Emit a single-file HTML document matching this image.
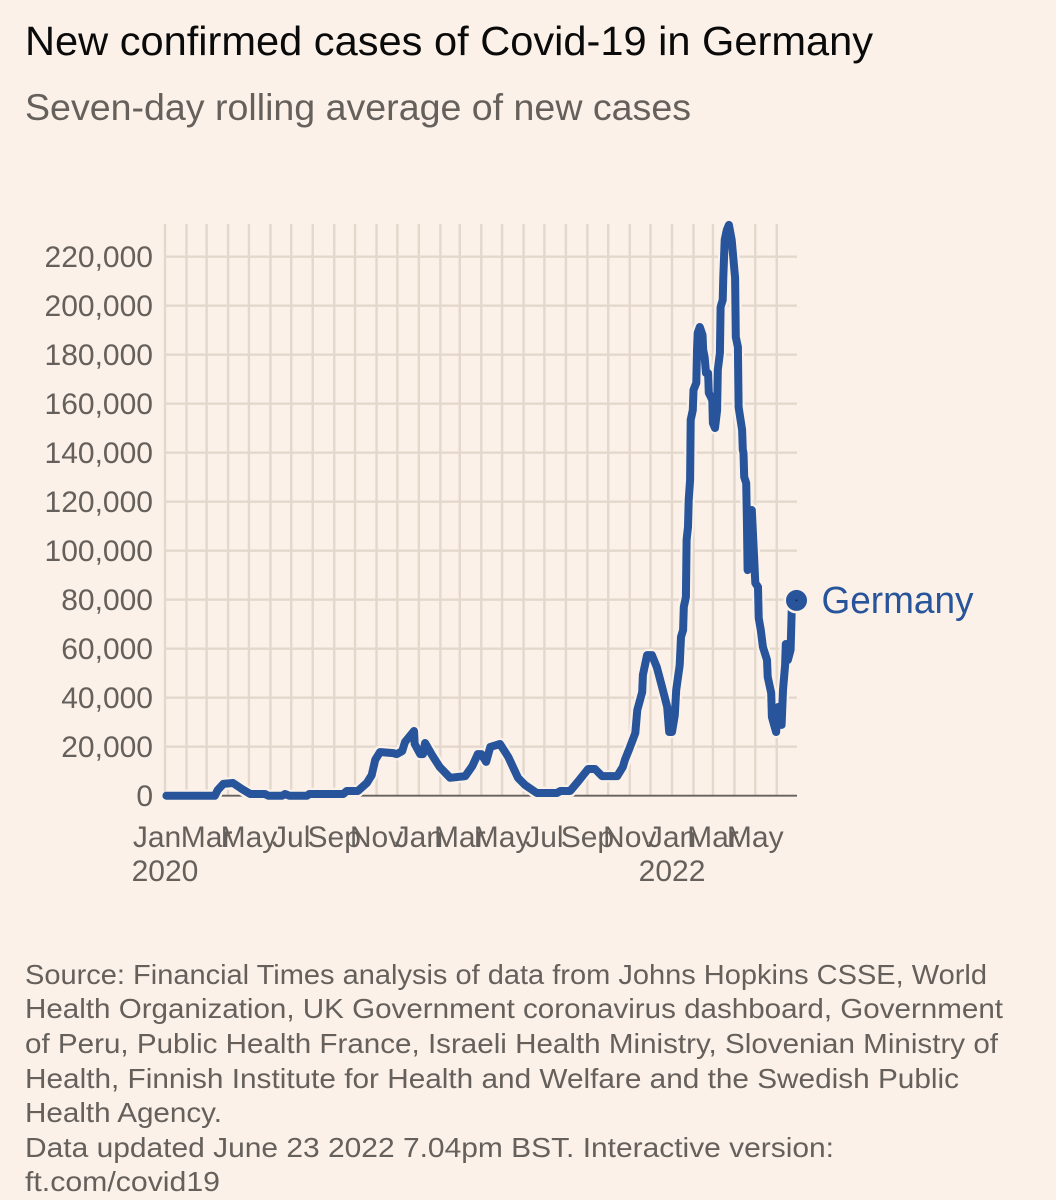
<!DOCTYPE html>
<html lang="en">
<head>
<meta charset="utf-8">
<title>New confirmed cases of Covid-19 in Germany</title>
<style>
  html, body { margin: 0; padding: 0; background: #fbf1e8; }
  body { width: 1056px; height: 1200px; overflow: hidden; }
  svg { display: block; font-family: "Liberation Sans", sans-serif; }
  .title { font-size: 41px; fill: #0a0a0a; }
  .subtitle { font-size: 37px; fill: #66605c; }
  .tick { font-size: 30px; fill: #66605c; }
  .xtick { font-size: 30px; fill: #66605c; }
  .foot { font-size: 28px; fill: #66605c; }
  .series-label { font-size: 38px; fill: #27549a; }
</style>
</head>
<body>
<svg id="chart" width="1056" height="1200" viewBox="0 0 1056 1200" xmlns="http://www.w3.org/2000/svg">
  <rect x="0" y="0" width="1056" height="1200" fill="#fbf1e8"/>
  <text class="title" x="25" y="55" textLength="848" lengthAdjust="spacingAndGlyphs">New confirmed cases of Covid-19 in Germany</text>
  <text class="subtitle" x="25" y="120" textLength="666" lengthAdjust="spacingAndGlyphs">Seven-day rolling average of new cases</text>
  <g id="grid"></g>
  <g id="yaxis"></g>
  <g id="xaxis"></g>
  <g id="series"></g>
  <g>
    <text class="foot" x="25" y="984" textLength="962" lengthAdjust="spacingAndGlyphs">Source: Financial Times analysis of data from Johns Hopkins CSSE, World</text>
    <text class="foot" x="25" y="1018" textLength="978" lengthAdjust="spacingAndGlyphs">Health Organization, UK Government coronavirus dashboard, Government</text>
    <text class="foot" x="25" y="1053" textLength="973" lengthAdjust="spacingAndGlyphs">of Peru, Public Health France, Israeli Health Ministry, Slovenian Ministry of</text>
    <text class="foot" x="25" y="1088" textLength="934" lengthAdjust="spacingAndGlyphs">Health, Finnish Institute for Health and Welfare and the Swedish Public</text>
    <text class="foot" x="25" y="1122" textLength="197" lengthAdjust="spacingAndGlyphs">Health Agency.</text>
    <text class="foot" x="25" y="1157" textLength="809" lengthAdjust="spacingAndGlyphs">Data updated June 23 2022 7.04pm BST. Interactive version:</text>
    <text class="foot" x="25" y="1191" textLength="195" lengthAdjust="spacingAndGlyphs">ft.com/covid19</text>
  </g>
</svg>
<script>
// Days since 1 January 2020
const days = [2,72,76,84,98,111,123,144,149,169,173,179,205,208,257,262,278,291,298,303,310,329,334,342,346,359,360,368,372,375,385,396,411,433,443,451,456,463,469,483,495,509,519,536,565,570,584,595,610,620,630,652,660,663,670,678,681,688,689,695,702,709,717,724,727,731,735,737,742,744,747,748,751,752,754,755,757,758,761,762,766,767,768,771,775,776,778,780,783,784,789,790,793,796,797,800,801,804,805,807,810,813,817,822,823,826,827,832,833,834,835,838,839,840,846,849,851,855,856,859,862,868,869,874,875,881,884,889,891,894,895,898,902,904];
// Seven-day average of new cases
const cases = [0,0,2300,4800,5200,2700,700,700,0,0,700,0,0,700,700,1900,1900,5200,8400,14600,17800,17400,17000,18200,21900,26400,21100,17000,17000,21500,16600,11700,7300,8000,12100,17000,17000,13800,19900,21100,15800,7300,4400,1100,1100,1900,1900,5600,10900,10900,8000,8000,11700,14600,19500,25600,35000,42300,49300,57400,57400,52500,44000,36200,26000,26000,32900,43100,53300,64800,67600,77000,81100,104400,109700,120700,128900,153400,157400,165600,168500,181900,188900,191300,188100,181900,179100,172500,172500,164400,161500,152100,150100,157400,173800,180700,199500,202300,211700,226800,230900,233000,226800,211300,187200,183100,158600,149300,141100,139900,130100,127600,112500,92100,116600,99000,86800,85200,72500,67600,60700,55400,48500,41900,32100,26000,36200,28900,43100,53300,61900,55400,59500,79700];
const yTicks = [0,20000,40000,60000,80000,100000,120000,140000,160000,180000,200000,220000];
const yTickLabels = ["0","20,000","40,000","60,000","80,000","100,000","120,000","140,000","160,000","180,000","200,000","220,000"];
// Days since 1 January 2020 of every month start on the grid
const monthDays = [0,31,60,91,121,152,182,213,244,274,305,335,366,397,425,456,486,517,547,578,609,639,670,700,731,762,790,821,851,882];
const xTickDays = [0,60,121,182,244,305,366,425,486,547,609,670,731,790,851];
const xTickLabels = ["Jan","Mar","May","Jul","Sep","Nov","Jan","Mar","May","Jul","Sep","Nov","Jan","Mar","May"];
const yearDays = [0,731];
const yearLabels = ["2020","2022"];
const seriesName = "Germany";

const NS = "http://www.w3.org/2000/svg";
const xScale = d => 165 + d * 0.6936;
const yScale = v => 795.7 - v * 0.00245;
const Y_TOP = 224, X_END = 797;

function mk(parent, tag, attrs, text) {
  const el = document.createElementNS(NS, tag);
  for (const k in attrs) el.setAttribute(k, attrs[k]);
  if (text !== undefined) el.textContent = text;
  parent.appendChild(el);
  return el;
}

const grid = document.getElementById("grid");
monthDays.forEach(d => {
  const el = mk(grid, "line", { x1: xScale(d), x2: xScale(d), y1: Y_TOP, y2: yScale(0), stroke: "#e4d8cd", "stroke-width": 2.4 });
  
  
});
yTicks.forEach(v => {
  if (v === 0) return;
  const el = mk(grid, "line", { x1: xScale(0), x2: X_END, y1: yScale(v), y2: yScale(v), stroke: "#e4d8cd", "stroke-width": 2.4 });
  
  
});

const yaxis = document.getElementById("yaxis");
yTicks.forEach((v, i) => {
  const el = mk(yaxis, "text", { class: "tick", x: 153, y: yScale(v) + 10.5, "text-anchor": "end" }, yTickLabels[i]);
  
  
});
const base = mk(yaxis, "line", { x1: xScale(0), x2: X_END, y1: yScale(0), y2: yScale(0), stroke: "#66605c", "stroke-width": 1.8 });



const xaxis = document.getElementById("xaxis");
xTickDays.forEach((d, i) => {
  const shift = i === 0 ? -8 : 0;
  const el = mk(xaxis, "text", { class: "xtick", x: xScale(d) + shift, y: 847, "text-anchor": "middle" }, xTickLabels[i]);
  
  
});
yearDays.forEach((d, i) => {
  const el = mk(xaxis, "text", { class: "xtick", x: xScale(d), y: 881, "text-anchor": "middle" }, yearLabels[i]);
  
  
});

const series = document.getElementById("series");
const pathD = days.map((d, i) => (i ? "L" : "M") + xScale(d).toFixed(1) + " " + yScale(cases[i]).toFixed(1)).join("");
const halo = mk(series, "path", { d: pathD, fill: "none", stroke: "#fbf1e8", "stroke-width": 12.5, "stroke-linejoin": "round" });


const line = mk(series, "path", { d: pathD, fill: "none", stroke: "#27549a", "stroke-width": 8, "stroke-linejoin": "round", "stroke-linecap": "round" });



const lastX = xScale(days[days.length - 1]) + 4.5;
const lastY = yScale(cases[cases.length - 1]);
const dotHalo = mk(series, "circle", { cx: lastX, cy: lastY, r: 13, fill: "#fbf1e8" });


const dot = mk(series, "circle", { cx: lastX, cy: lastY, r: 10.5, fill: "#27549a" });


const dotCore = mk(series, "circle", { cx: lastX, cy: lastY, r: 1, fill: "#0e2a55" });


const label = mk(series, "text", { class: "series-label", x: lastX + 25, y: lastY + 12.5, textLength: 152, lengthAdjust: "spacingAndGlyphs" }, seriesName);


</script>
</body>
</html>
